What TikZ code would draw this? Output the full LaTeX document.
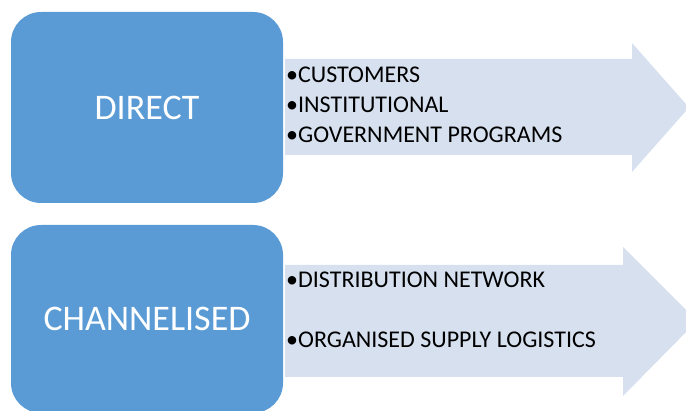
\documentclass[tikz,border=0pt]{standalone}
\usepackage{fontspec}
\setmainfont{Carlito}
\definecolor{boxblue}{HTML}{5B9BD5}
\definecolor{arrowfill}{HTML}{D6E0EF}
\begin{document}
\begin{tikzpicture}[x=1pt,y=1pt,
  catbox/.style={fill=boxblue, draw=none, rounded corners=30pt},
  cattext/.style={text=white, font=\fontsize{36}{43}\selectfont},
  bigarrow/.style={fill=arrowfill, draw=none},
  itemtext/.style={anchor=base west, inner sep=0pt, font=\fontsize{24}{29}\selectfont}]
  \useasboundingbox (0,0) rectangle (686,410);
  \clip (0,0) rectangle (686,410);

  % upper row: DIRECT
  \path[bigarrow] (285,351) -- (632,351) -- (632,367) -- (689,302.5)
        -- (632,238) -- (632,255) -- (285,255) -- cycle;
  \path[catbox] (11,207) rectangle (283,398);
  \node[cattext] (direct) at (147,302.5) {DIRECT};
  \node[itemtext] (customers) at (286,327) {•CUSTOMERS};
  \node[itemtext] (institutional) at (286,297) {•INSTITUTIONAL};
  \node[itemtext] (government) at (286,267) {•GOVERNMENT PROGRAMS};

  % lower row: CHANNELISED
  \path[bigarrow] (285,145) -- (623,145) -- (623,163) -- (697,89)
        -- (623,14) -- (623,33) -- (285,33) -- cycle;
  \path[catbox] (11,-3) rectangle (283,185);
  \node[cattext] (channelised) at (147,91) {CHANNELISED};
  \node[itemtext] (distribution) at (286,122) {•DISTRIBUTION NETWORK};
  \node[itemtext] (logistics) at (286,62) {•ORGANISED SUPPLY LOGISTICS};
\end{tikzpicture}
\end{document}
